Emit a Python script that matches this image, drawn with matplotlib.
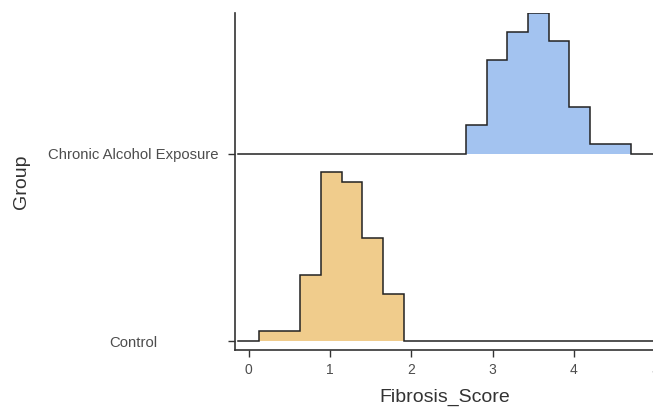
import matplotlib
matplotlib.use("Agg")
import matplotlib.pyplot as plt
import numpy as np

# groups (bottom to top) and their baseline positions
groups = ["Control", "Chronic Alcohol Exposure"]
colors = ["#F0CC8C", "#A3C3F0"]

# common bin edges
x_start = -0.127
x_end = 5.3

# bar heights (in group-spacing units), one list per group
control_edges = [0.127, 0.381, 0.636, 0.890, 1.145, 1.399, 1.654, 1.909]
control_heights = [0.052, 0.052, 0.351, 0.901, 0.849, 0.548, 0.249]

alcohol_edges = [2.672, 2.927, 3.181, 3.436, 3.690, 3.945, 4.199, 4.454, 4.708]
alcohol_heights = [0.152, 0.500, 0.650, 0.750, 0.600, 0.251, 0.052, 0.052]

fig = plt.figure(figsize=(6.53, 4.09), dpi=100)
ax = fig.add_axes([235/653, 59/409, (655-235)/653, (350-13)/409])

font = "Liberation Sans"

for i, (edges, heights) in enumerate([(control_edges, control_heights),
                                      (alcohol_edges, alcohol_heights)]):
    base = i + 1
    edges = np.array(edges)
    heights = np.array(heights)
    # fill
    xs = np.repeat(edges, 2)[1:-1]
    ys = np.repeat(heights, 2) + base
    ax.fill_between(xs, base, ys, color=colors[i], lw=0, zorder=2)
    # upper outline including the zero-height parts
    ox = np.concatenate([[x_start], np.repeat(edges, 2), [x_end]])
    oy = np.concatenate([[base, base], np.repeat(heights, 2) + base, [base, base]])
    ax.plot(ox, oy, color="#222222", lw=1.1, zorder=3, solid_joinstyle="miter")

ax.set_xlim(-0.17, 5.0)
ax.set_ylim(0.952, 2.752)
ax.set_xticks([0, 1, 2, 3, 4, 5])
ax.set_yticks([1, 2])
ax.set_yticklabels(groups, ha="center")
ax.tick_params(axis="y", pad=68.5, length=5, width=1, color="#333333")
ax.tick_params(axis="x", length=5, width=1, color="#333333", pad=4)
for lab in ax.get_yticklabels():
    lab.set_fontfamily(font)
    lab.set_fontsize(10.7)
    lab.set_color("#4d4d4d")
for lab in ax.get_xticklabels():
    lab.set_fontfamily(font)
    lab.set_fontsize(10)
    lab.set_color("#4d4d4d")

ax.set_xlabel("Fibrosis_Score", fontfamily=font, fontsize=14, color="#333333", labelpad=9)
ax.set_ylabel("Group", fontfamily=font, fontsize=14, color="#333333")
ax.yaxis.set_label_coords(-0.488, 0.5)

for s in ["top", "right"]:
    ax.spines[s].set_visible(False)
for s in ["left", "bottom"]:
    ax.spines[s].set_linewidth(1.2)
    ax.spines[s].set_color("#333333")

fig.savefig("out.png", dpi=100)
